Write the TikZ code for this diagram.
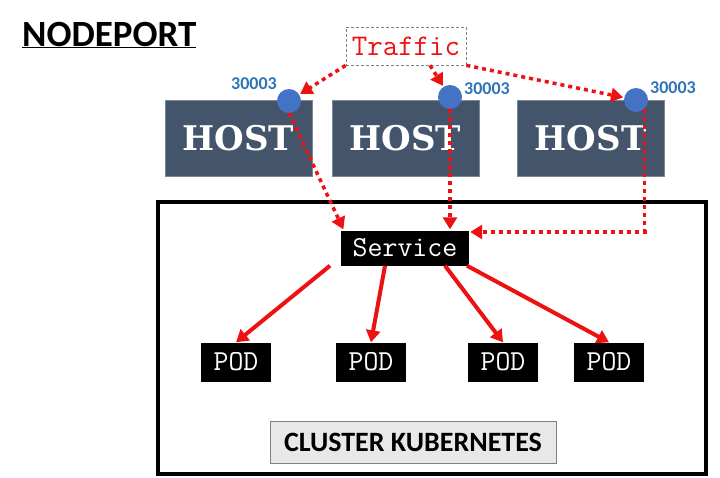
\documentclass[tikz,border=0pt]{standalone}
\usepackage{fontspec}
\setmainfont{Carlito}
\newfontfamily\hostf{DejaVu Serif}
\usetikzlibrary{arrows.meta}
\definecolor{hostc}{HTML}{44546A}
\definecolor{portc}{HTML}{4472C4}
\definecolor{lblc}{HTML}{2E75B6}
\definecolor{arr}{HTML}{EE1111}
\begin{document}
\begin{tikzpicture}[x=1pt,y=-1pt,
  host/.style={fill=hostc,draw=hostc!70!white,line width=0.8pt,minimum width=147pt,minimum height=76pt,inner sep=0pt,text=white,font=\hostf\bfseries\fontsize{34}{34}\selectfont},
  blk/.style={fill=black,text=white,inner sep=0pt,font=\ttfamily\fontsize{29}{29}\selectfont},
  port/.style={circle,fill=portc,minimum size=24pt,inner sep=0pt},
  plbl/.style={text=lblc,font=\bfseries\fontsize{18}{18}\selectfont,inner sep=0pt},
  dot/.style={draw=arr,line width=3.5pt,dash pattern=on 4pt off 4pt,-{Triangle[length=12pt,width=14pt]},shorten >=1pt},
  sol/.style={draw=arr,line width=4pt,-{Triangle[length=12pt,width=14pt]}}]
\useasboundingbox (0,0) rectangle (720,477);
\fill[white] (0,0) rectangle (720,477);
\node[inner sep=0pt,anchor=west,font=\bfseries\fontsize{37}{37}\selectfont] (title) at (22,35) {\underline{NODEPORT}};
\node[draw=gray,densely dashed,line width=0.7pt,minimum width=120pt,minimum height=38pt,inner sep=0pt,text=arr,font=\ttfamily\fontsize{30}{30}\selectfont] (traffic) at (406,46) {Traffic};
\node[host] (h1) at (238.5,138) {HOST};
\node[host] (h2) at (405.5,138) {HOST};
\node[host] (h3) at (590.5,138) {HOST};
\node[port] (p1) at (289,101) {};
\node[port] (p2) at (450,97) {};
\node[port] (p3) at (636,100) {};
\node[plbl,anchor=east] (l1) at (277,84) {30003};
\node[plbl,anchor=west] (l2) at (464,89) {30003};
\node[plbl,anchor=west] (l3) at (650,88) {30003};
\node[draw=black,line width=4pt,minimum width=548pt,minimum height=272pt,inner sep=0pt] (cluster) at (432,338) {};
\node[blk,minimum width=128pt,minimum height=35pt] (svc) at (405,248) {Service};
\node[blk,minimum width=70pt,minimum height=39pt] (pod1) at (236,362) {POD};
\node[blk,minimum width=70pt,minimum height=39pt] (pod2) at (371,362) {POD};
\node[blk,minimum width=70pt,minimum height=39pt] (pod3) at (503,362) {POD};
\node[blk,minimum width=70pt,minimum height=39pt] (pod4) at (609,362) {POD};
\node[fill=gray!18,draw=gray,line width=1pt,minimum width=286pt,minimum height=42pt,inner sep=0pt,font=\bfseries\fontsize{28}{28}\selectfont] (clbl) at (413,442) {CLUSTER KUBERNETES};
\coordinate (c3) at (648,232);
\draw[dot] (traffic.south west) -- (p1);
\draw[dot] ([xshift=24pt]traffic.south) -- (p2);
\draw[dot] (traffic.south east) -- (p3);
\draw[dot] (p1.south) -- ([xshift=3pt]svc.north west);
\draw[dot] (p2.south) -- (svc.north -| p2);
\draw[dot] (p3.south east) |- (c3) -- (c3 -| svc.east);
\draw[sol] ([xshift=-75pt]svc.south) -- (pod1.north);
\draw[sol] ([xshift=-20pt]svc.south) -- (pod2.north);
\draw[sol] ([xshift=40pt]svc.south) -- (pod3.north);
\draw[sol] ([xshift=62pt]svc.south) -- (pod4.north);
\end{tikzpicture}
\end{document}
